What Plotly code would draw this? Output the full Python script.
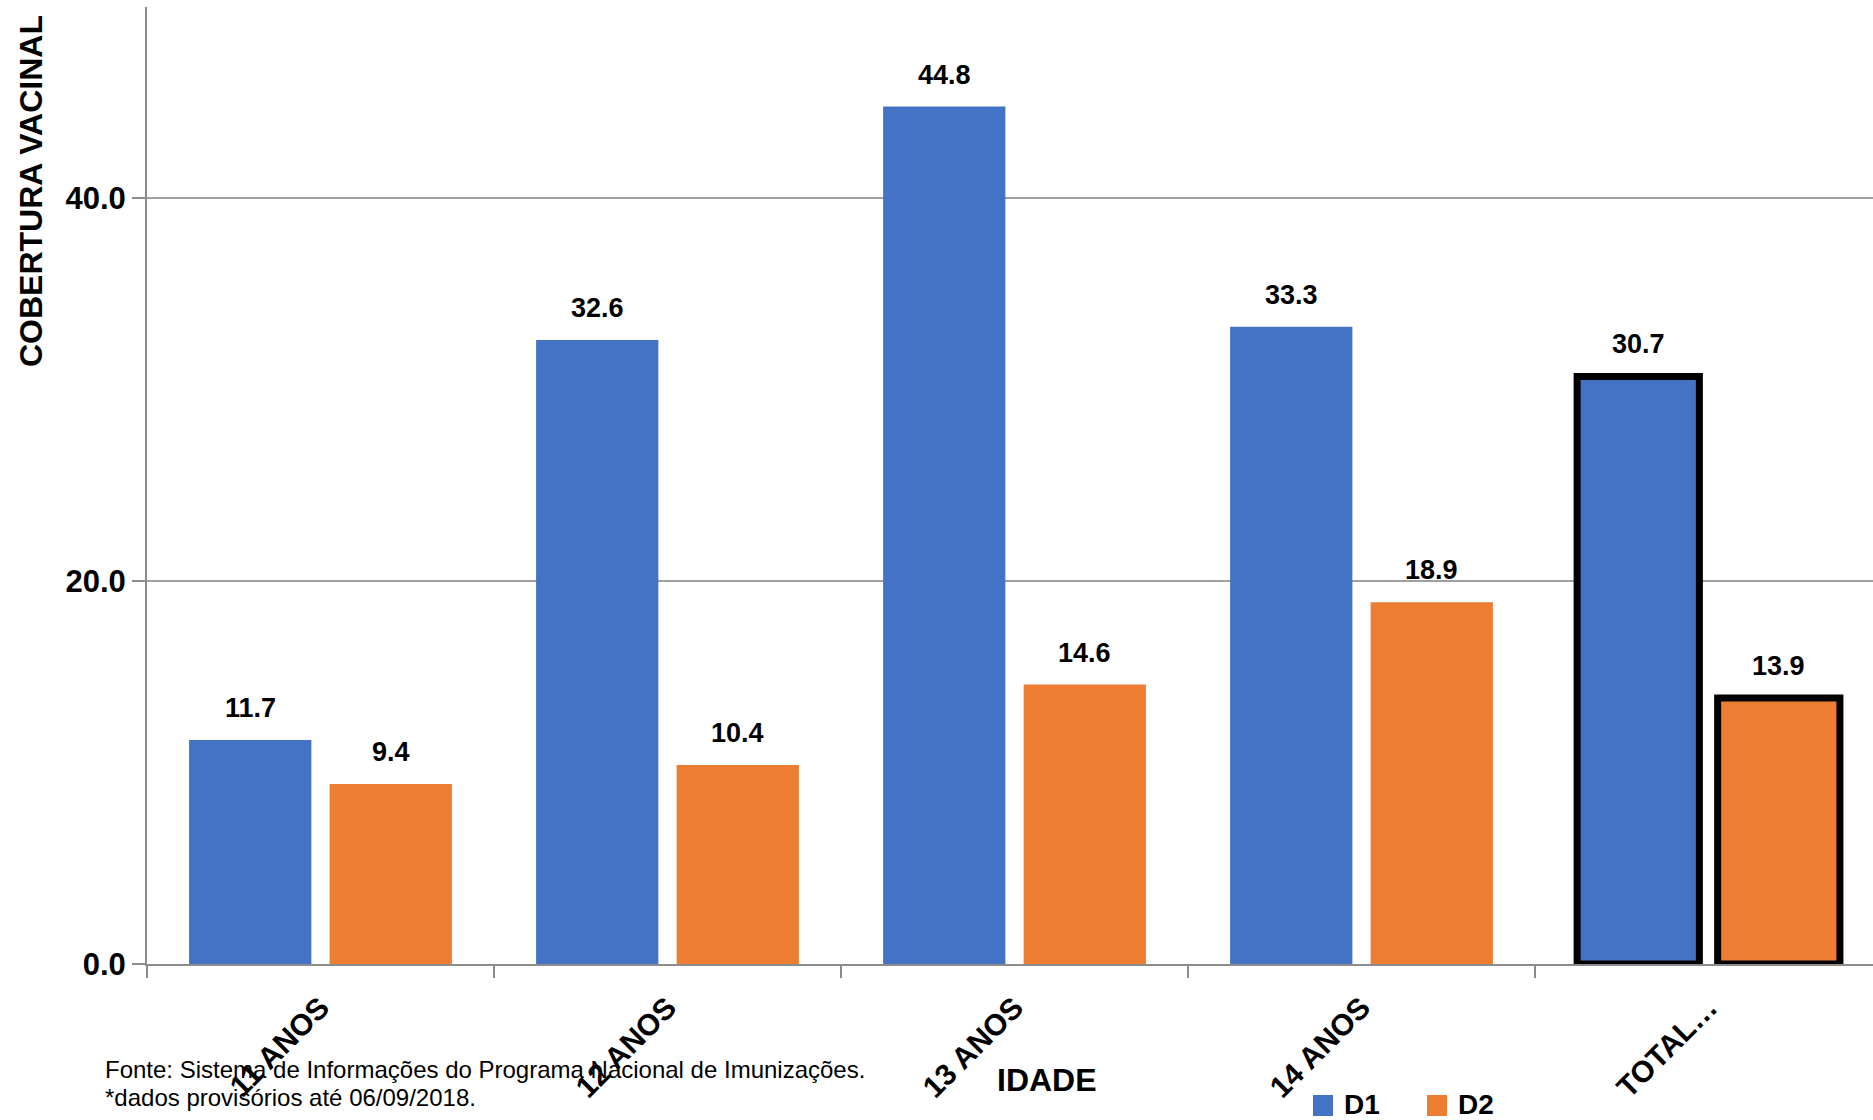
import plotly.graph_objects as go

# Vaccination coverage (%) by age group, first (D1) and second (D2) dose
categories = ["11 ANOS", "12 ANOS", "13 ANOS", "14 ANOS", "TOTAL…"]
d1_values = [11.7, 32.6, 44.8, 33.3, 30.7]
d2_values = [9.4, 10.4, 14.6, 18.9, 13.9]
series_names = ["D1", "D2"]
y_ticks = [0, 20, 40]
footnote_lines = [
    "Fonte: Sistema de Informações do Programa Nacional de Imunizações.",
    "*dados provisórios até 06/09/2018.",
]

BLUE = "#4472C4"
ORANGE = "#ED7D31"
FONT = "Liberation Sans, Arial, sans-serif"

W, H = 1873, 1120
L, R, T, B = 147, 0, 7, 156
plot_w = W - L - R
plot_h = H - T - B

BARGAP = 0.19
BARGROUPGAP = 0.13
# the last category runs slightly past the right edge of the page
X_RANGE = [-0.5, 4.474]

# the total column is outlined in black
outline = [7 if c.startswith("TOTAL") else 0 for c in categories]

fig = go.Figure()
for name, vals, color in [(series_names[0], d1_values, BLUE),
                          (series_names[1], d2_values, ORANGE)]:
    fig.add_trace(go.Bar(
        name=name, x=categories, y=vals, showlegend=False,
        marker=dict(color=color, line=dict(color="black", width=outline)),
    ))


def px_x(px):
    return (px - L) / plot_w


def px_y(py):
    return (H - B - py) / plot_h


# value labels above each bar
slot = (1 - BARGAP) / 2
offsets = [-slot / 2, slot / 2]
annotations = []
for k, vals in enumerate([d1_values, d2_values]):
    for i, v in enumerate(vals):
        annotations.append(dict(
            x=i + offsets[k], y=v, xref="x", yref="y",
            text=f"{v:.1f}", showarrow=False,
            yanchor="bottom", yshift=15,
            font=dict(family=FONT, size=27, color="black", weight="bold"),
        ))

annotations += [
    dict(text="<b>COBERTURA VACINAL</b>", textangle=-90, showarrow=False,
         xref="paper", yref="paper", x=px_x(31), y=px_y(191),
         xanchor="center", yanchor="middle",
         font=dict(family=FONT, size=32, color="black")),
    dict(text="<b>IDADE</b>", showarrow=False,
         xref="paper", yref="paper", x=px_x(1047), y=px_y(1080),
         xanchor="center", yanchor="middle",
         font=dict(family=FONT, size=32, color="black")),
]
for j, line in enumerate(footnote_lines):
    annotations.append(dict(
        text=line, showarrow=False, align="left",
        xref="paper", yref="paper", x=px_x(103), y=px_y(1069 + 28 * j),
        xanchor="left", yanchor="middle",
        font=dict(family=FONT, size=24, color="black"),
    ))

# legend: colour swatch followed by the series name
shapes = []
legend_x = [1313, 1427]
for name, color, lx in zip(series_names, [BLUE, ORANGE], legend_x):
    shapes.append(dict(
        type="rect", xref="paper", yref="paper",
        x0=px_x(lx), x1=px_x(lx + 20), y0=px_y(1116), y1=px_y(1095),
        fillcolor=color, line=dict(width=0),
    ))
    annotations.append(dict(
        text=f"<b>{name}</b>", showarrow=False,
        xref="paper", yref="paper", x=px_x(lx + 29), y=px_y(1104),
        xanchor="left", yanchor="middle",
        font=dict(family=FONT, size=28, color="black"),
    ))

fig.update_layout(
    width=W, height=H,
    margin=dict(l=L, r=R, t=T, b=B, autoexpand=False),
    paper_bgcolor="white", plot_bgcolor="white",
    barmode="group", bargap=BARGAP, bargroupgap=BARGROUPGAP,
    font=dict(family=FONT, color="black"),
    showlegend=False,
    annotations=annotations,
    shapes=shapes,
)

fig.update_xaxes(
    type="category", range=X_RANGE,
    tickson="boundaries", ticks="outside", ticklen=12,
    tickcolor="#8c8c8c", tickwidth=2,
    showline=True, linecolor="#8c8c8c", linewidth=2,
    tickangle=-45, showgrid=False, ticklabelstandoff=12,
    tickfont=dict(family=FONT, size=30, color="black", weight="bold"),
)

fig.update_yaxes(
    range=[0, 50], tickvals=y_ticks, tickformat=".1f",
    ticks="outside", ticklen=13, tickcolor="#8c8c8c", tickwidth=2,
    showline=True, linecolor="#8c8c8c", linewidth=2,
    showgrid=True, gridcolor="#a0a0a0", gridwidth=1.5,
    zeroline=False,
    tickfont=dict(family=FONT, size=31, color="black", weight="bold"),
)

fig.write_html("out.html")
